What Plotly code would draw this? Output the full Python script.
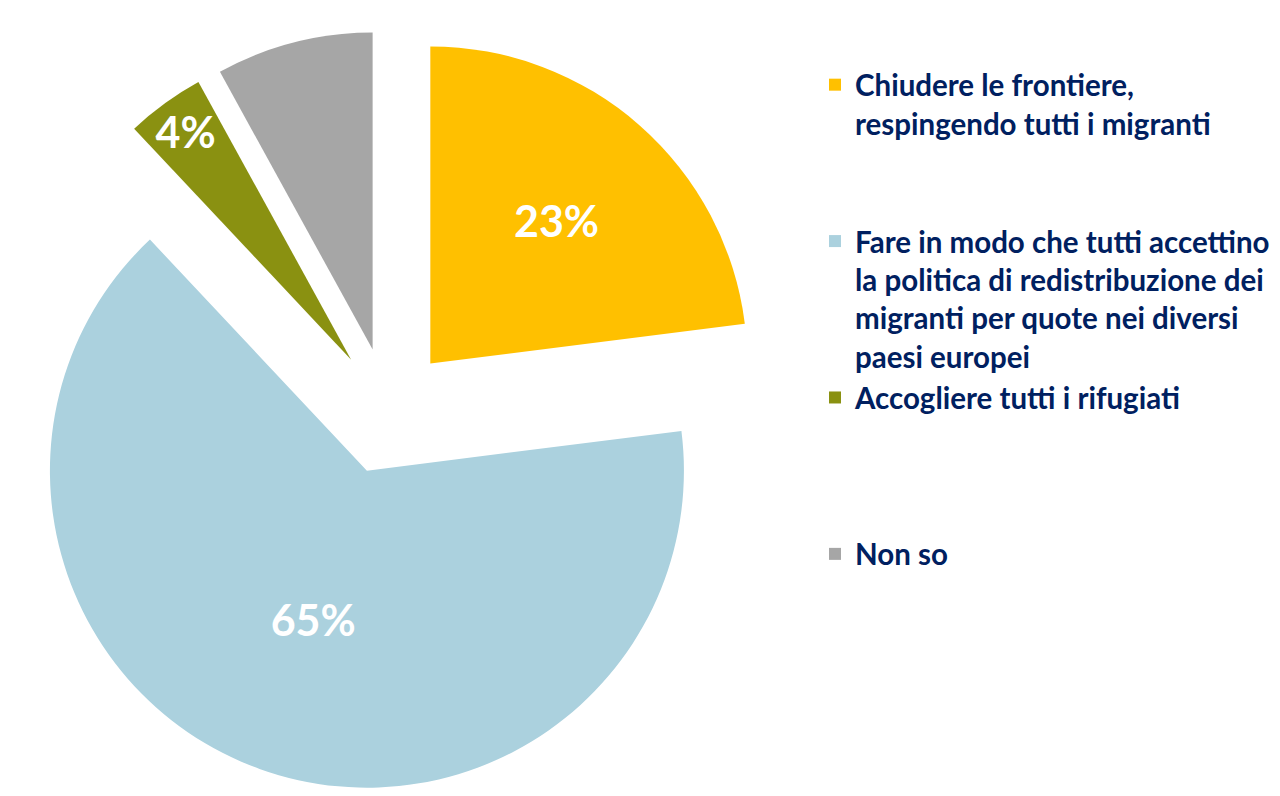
import plotly.graph_objects as go

# ---- data ----
categories = [
    "Chiudere le frontiere, respingendo tutti i migranti",
    "Fare in modo che tutti accettino la politica di redistribuzione dei migranti per quote nei diversi paesi europei",
    "Accogliere tutti i rifugiati",
    "Non so",
]
legend_lines = [
    ["Chiudere le frontiere,", "respingendo tutti i migranti"],
    ["Fare in modo che tutti accettino", "la politica di redistribuzione dei",
     "migranti per quote nei diversi", "paesi europei"],
    ["Accogliere tutti i rifugiati"],
    ["Non so"],
]
values = [23, 65, 4, 8]
show_label = [True, True, True, False]

# ---- style ----
colors = ["#FFC000", "#ABD1DE", "#8A9111", "#A6A6A6"]
navy = "#002060"
LINES_PER_SLOT = 4
PULL = 0.2
R = 317          # target pie radius in px
CY = 403         # pie centre from top (figure px)
LABEL_SIZE = 43

legend_labels = []
for i, lines in enumerate(legend_lines):
    pad = [] if i == len(legend_lines) - 1 else ["\u00a0"] * (LINES_PER_SLOT - len(lines))
    legend_labels.append("<br>".join(lines + pad))

texttemplates = ["%{value}%" if s else "" for s in show_label]

W, H = 1280, 796
box = 2 * R * (1 + PULL)
fig = go.Figure(
    go.Pie(
        labels=legend_labels,
        values=values,
        sort=False,
        direction="clockwise",
        rotation=0,
        pull=[PULL] * len(values),
        marker=dict(colors=colors, line=dict(width=0)),
        texttemplate=texttemplates,
        textposition="inside",
        insidetextorientation="horizontal",
        textfont=dict(family="Lato", size=LABEL_SIZE, color="white", weight="bold"),
        hoverinfo="label+percent",
        domain=dict(
            x=[0, box / W],
            y=[1 - (CY + box / 2) / H, 1 - (CY - box / 2) / H],
        ),
    )
)

fig.update_layout(
    width=W,
    height=H,
    margin=dict(l=0, r=0, t=0, b=0),
    paper_bgcolor="white",
    plot_bgcolor="white",
    showlegend=True,
    legend=dict(
        x=807 / W,
        y=1 - 51 / H,
        xanchor="left",
        yanchor="top",
        valign="top",
        font=dict(family="Lato", size=29.5, color=navy, weight="bold"),
        itemsizing="constant",
        traceorder="normal",
    ),
    uniformtext=dict(minsize=LABEL_SIZE, mode="show"),
)

fig.write_html("out.html")
